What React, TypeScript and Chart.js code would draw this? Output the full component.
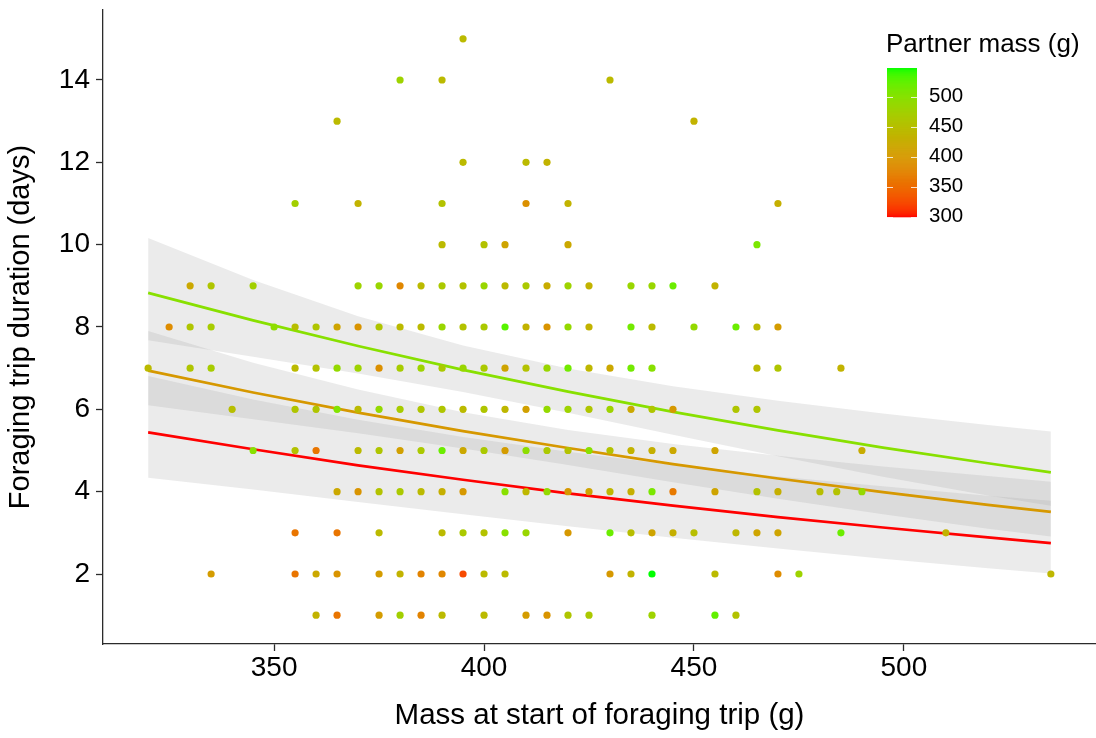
import React, { useEffect, useRef } from "react";
import { Chart, registerables } from "chart.js";

Chart.register(...registerables);

const FONT_FAMILY = '"Liberation Sans", Arial, Helvetica, sans-serif';

// Axis and legend breaks
const massTicks = [350, 400, 450, 500];
const durationTicks = [2, 4, 6, 8, 10, 12, 14];
const partnerTicks = [300, 350, 400, 450, 500];

// Observed foraging trips: bird mass at departure (g), trip length (days), partner mass (g)
const startMass = [
  395,
  380, 390, 430,
  365, 450,
  395, 410, 415,
  355, 370, 390, 410, 420, 470,
  390, 400, 405, 420, 465,
  330, 335, 345, 370, 375, 380, 385, 390, 395, 400, 405, 410, 415, 420, 425, 435, 440, 445, 455,
  325, 330, 335, 350, 355, 360, 365, 370, 375, 380, 385, 390, 395, 400, 405, 410, 415, 420, 425, 435, 440, 450, 460, 465, 470,
  320, 330, 335, 355, 360, 365, 370, 375, 380, 385, 390, 395, 400, 405, 410, 415, 420, 425, 430, 435, 440, 465, 470, 485,
  340, 355, 360, 365, 370, 375, 380, 385, 390, 395, 400, 405, 410, 415, 420, 425, 430, 435, 440, 445, 460, 465,
  345, 355, 360, 370, 375, 380, 385, 390, 395, 400, 405, 410, 415, 420, 425, 430, 435, 440, 445, 455, 490,
  365, 370, 375, 380, 385, 390, 395, 405, 410, 415, 420, 425, 430, 435, 440, 445, 455, 465, 470, 480, 484, 490,
  355, 365, 375, 390, 395, 400, 405, 410, 420, 430, 435, 440, 445, 450, 460, 465, 470, 485, 510,
  335, 355, 360, 365, 375, 380, 385, 390, 395, 400, 405, 430, 435, 440, 455, 470, 475, 535,
  360, 365, 375, 380, 385, 390, 400, 410, 415, 420, 425, 440, 455, 460,
];

const tripDays = [
  15,
  14, 14, 14,
  13, 13,
  12, 12, 12,
  11, 11, 11, 11, 11, 11,
  10, 10, 10, 10, 10,
  9, 9, 9, 9, 9, 9, 9, 9, 9, 9, 9, 9, 9, 9, 9, 9, 9, 9, 9,
  8, 8, 8, 8, 8, 8, 8, 8, 8, 8, 8, 8, 8, 8, 8, 8, 8, 8, 8, 8, 8, 8, 8, 8, 8,
  7, 7, 7, 7, 7, 7, 7, 7, 7, 7, 7, 7, 7, 7, 7, 7, 7, 7, 7, 7, 7, 7, 7, 7,
  6, 6, 6, 6, 6, 6, 6, 6, 6, 6, 6, 6, 6, 6, 6, 6, 6, 6, 6, 6, 6, 6,
  5, 5, 5, 5, 5, 5, 5, 5, 5, 5, 5, 5, 5, 5, 5, 5, 5, 5, 5, 5, 5,
  4, 4, 4, 4, 4, 4, 4, 4, 4, 4, 4, 4, 4, 4, 4, 4, 4, 4, 4, 4, 4, 4,
  3, 3, 3, 3, 3, 3, 3, 3, 3, 3, 3, 3, 3, 3, 3, 3, 3, 3, 3,
  2, 2, 2, 2, 2, 2, 2, 2, 2, 2, 2, 2, 2, 2, 2, 2, 2, 2,
  1, 1, 1, 1, 1, 1, 1, 1, 1, 1, 1, 1, 1, 1,
];

const partnerMass = [
  445,
  480, 445, 445,
  445, 435,
  445, 445, 435,
  475, 435, 455, 390, 435, 430,
  445, 455, 415, 420, 510,
  420, 460, 475, 480, 485, 380, 445, 465, 455, 485, 445, 465, 425, 480, 435, 485, 485, 520, 435,
  385, 460, 470, 495, 450, 460, 415, 395, 460, 445, 445, 485, 455, 465, 530, 435, 395, 490, 435, 515, 445, 490, 520, 445, 405,
  445, 460, 470, 445, 455, 490, 480, 390, 470, 480, 465, 485, 465, 415, 455, 485, 515, 440, 420, 515, 500, 445, 460, 435,
  450, 460, 460, 505, 445, 490, 470, 460, 460, 445, 460, 440, 410, 490, 480, 460, 480, 420, 460, 400, 460, 460,
  500, 455, 360, 445, 460, 410, 465, 520, 420, 465, 405, 495, 465, 455, 500, 455, 435, 430, 420, 415, 425,
  420, 395, 455, 465, 445, 430, 400, 500, 440, 490, 400, 415, 440, 430, 510, 365, 415, 455, 430, 450, 455, 490,
  360, 360, 445, 445, 465, 455, 500, 485, 400, 520, 450, 415, 430, 450, 440, 415, 415, 520, 435,
  405, 360, 420, 395, 405, 435, 375, 380, 325, 445, 445, 400, 435, 548, 445, 385, 480, 440,
  435, 360, 405, 475, 375, 445, 445, 405, 395, 460, 465, 480, 525, 455,
];

// Fitted trip duration (log-link model) with 95% confidence bands, per partner mass
const fitMass = [320, 345, 370, 395, 420, 445, 470, 495, 520, 535];
const fitPartner = [300, 400, 500];

const fitDays300 = [5.44, 5.03, 4.64, 4.29, 3.96, 3.66, 3.38, 3.13, 2.89, 2.75];
const ciLow300 = [4.34, 4.05, 3.75, 3.45, 3.16, 2.88, 2.62, 2.37, 2.14, 2.01];
const ciHigh300 = [6.81, 6.24, 5.75, 5.33, 4.97, 4.65, 4.37, 4.13, 3.9, 3.78];

const fitDays400 = [6.94, 6.41, 5.92, 5.47, 5.06, 4.67, 4.32, 3.99, 3.68, 3.51];
const ciLow400 = [6.1, 5.76, 5.42, 5.05, 4.65, 4.23, 3.83, 3.45, 3.1, 2.91];
const ciHigh400 = [7.9, 7.13, 6.48, 5.93, 5.5, 5.16, 4.87, 4.61, 4.38, 4.24];

const fitDays500 = [8.83, 8.16, 7.54, 6.96, 6.43, 5.94, 5.49, 5.07, 4.69, 4.47];
const ciLow500 = [7.68, 7.28, 6.87, 6.42, 5.92, 5.38, 4.86, 4.36, 3.91, 3.66];
const ciHigh500 = [10.16, 9.14, 8.26, 7.55, 6.99, 6.56, 6.21, 5.9, 5.62, 5.46];

const PARTNER_LOW = Math.min(...fitPartner, ...partnerMass);
const PARTNER_HIGH = Math.max(...fitPartner, ...partnerMass);

// --- colour scale: red -> green interpolated in CIE Lab ---
type Vec3 = [number, number, number];
const WHITE: Vec3 = [0.95047, 1, 1.08883];

function toLinear(c: number) {
  const v = c / 255;
  return v <= 0.04045 ? v / 12.92 : Math.pow((v + 0.055) / 1.055, 2.4);
}
function fromLinear(c: number) {
  const v = Math.max(0, Math.min(1, c));
  const s = v <= 0.0031308 ? 12.92 * v : 1.055 * Math.pow(v, 1 / 2.4) - 0.055;
  return Math.round(Math.max(0, Math.min(1, s)) * 255);
}
function rgbToLab(rgb: Vec3): Vec3 {
  const [r, g, b] = rgb.map(toLinear);
  const X = 0.4124 * r + 0.3576 * g + 0.1805 * b;
  const Y = 0.2126 * r + 0.7152 * g + 0.0722 * b;
  const Z = 0.0193 * r + 0.1192 * g + 0.9505 * b;
  const d = 6 / 29;
  const f = (t: number) => (t > d * d * d ? Math.cbrt(t) : t / (3 * d * d) + 4 / 29);
  const fx = f(X / WHITE[0]);
  const fy = f(Y / WHITE[1]);
  const fz = f(Z / WHITE[2]);
  return [116 * fy - 16, 500 * (fx - fy), 200 * (fy - fz)];
}
function labToRgb(lab: Vec3): Vec3 {
  const [L, a, b] = lab;
  const fy = (L + 16) / 116;
  const fx = fy + a / 500;
  const fz = fy - b / 200;
  const d = 6 / 29;
  const fi = (t: number) => (t > d ? t * t * t : 3 * d * d * (t - 4 / 29));
  const X = WHITE[0] * fi(fx);
  const Y = WHITE[1] * fi(fy);
  const Z = WHITE[2] * fi(fz);
  const r = 3.2406 * X - 1.5372 * Y - 0.4986 * Z;
  const g = -0.9689 * X + 1.8758 * Y + 0.0415 * Z;
  const bl = 0.0557 * X - 0.204 * Y + 1.057 * Z;
  return [fromLinear(r), fromLinear(g), fromLinear(bl)];
}

const LAB_LOW = rgbToLab([255, 0, 0]);
const LAB_HIGH = rgbToLab([0, 255, 0]);

function partnerColour(v: number) {
  const t = Math.max(0, Math.min(1, (v - PARTNER_LOW) / (PARTNER_HIGH - PARTNER_LOW)));
  const lab: Vec3 = [
    LAB_LOW[0] + (LAB_HIGH[0] - LAB_LOW[0]) * t,
    LAB_LOW[1] + (LAB_HIGH[1] - LAB_LOW[1]) * t,
    LAB_LOW[2] + (LAB_HIGH[2] - LAB_LOW[2]) * t,
  ];
  const [r, g, b] = labToRgb(lab);
  return `rgb(${r},${g},${b})`;
}

// --- continuous colour-bar legend ---
const colourBarLegend = {
  id: "partnerColourBar",
  afterDraw(chart: any) {
    const ctx = chart.ctx as CanvasRenderingContext2D;
    const left = 887;
    const right = 917;
    const top = 68;
    const bottom = 216.7;
    const span = PARTNER_HIGH - PARTNER_LOW;
    const toY = (v: number) => bottom - ((v - PARTNER_LOW) / span) * (bottom - top);

    ctx.save();
    const steps = 150;
    const h = (bottom - top) / steps;
    for (let i = 0; i < steps; i++) {
      const y0 = bottom - (i + 1) * h;
      const v = PARTNER_LOW + ((i + 0.5) / steps) * span;
      ctx.fillStyle = partnerColour(v);
      ctx.fillRect(left, y0, right - left, h + 0.6);
    }

    ctx.strokeStyle = "rgba(255,255,255,0.8)";
    ctx.lineWidth = 1;
    partnerTicks.forEach((v) => {
      const y = Math.round(toY(v)) + 0.5;
      ctx.beginPath();
      ctx.moveTo(left, y);
      ctx.lineTo(left + 6, y);
      ctx.moveTo(right - 6, y);
      ctx.lineTo(right, y);
      ctx.stroke();
    });

    ctx.fillStyle = "#000000";
    ctx.font = `20.5px ${FONT_FAMILY}`;
    ctx.textAlign = "left";
    ctx.textBaseline = "middle";
    partnerTicks.forEach((v) => {
      ctx.fillText(String(v), 929, toY(v));
    });

    ctx.font = `26px ${FONT_FAMILY}`;
    ctx.textBaseline = "alphabetic";
    ctx.fillText("Partner mass (g)", 886, 52);
    ctx.restore();
  },
};

function curve(values: number[]) {
  return fitMass.map((m, i) => ({ x: m, y: values[i] }));
}

export default function App() {
  const canvasRef = useRef<HTMLCanvasElement | null>(null);

  useEffect(() => {
    const canvas = canvasRef.current;
    if (!canvas) return;

    const fits = [
      { partner: fitPartner[0], mid: fitDays300, lo: ciLow300, hi: ciHigh300 },
      { partner: fitPartner[1], mid: fitDays400, lo: ciLow400, hi: ciHigh400 },
      { partner: fitPartner[2], mid: fitDays500, lo: ciLow500, hi: ciHigh500 },
    ];
    const ribbonFill = "rgba(153,153,153,0.2)";
    const clear = "rgba(0,0,0,0)";

    const datasets: any[] = [
      {
        label: "Trips",
        data: startMass.map((m, i) => ({ x: m, y: tripDays[i] })),
        showLine: false,
        pointRadius: 3.6,
        pointBorderWidth: 0,
        pointBackgroundColor: partnerMass.map(partnerColour),
        pointBorderColor: clear,
        order: 0,
      },
      ...fits.map((f) => ({
        label: `Fit ${f.partner}`,
        data: curve(f.mid),
        borderColor: partnerColour(f.partner),
        borderWidth: 2.7,
        pointRadius: 0,
        fill: false,
        tension: 0,
        order: 1,
      })),
    ];
    fits.forEach((f) => {
      datasets.push({
        label: `Upper ${f.partner}`,
        data: curve(f.hi),
        borderColor: clear,
        borderWidth: 0,
        pointRadius: 0,
        backgroundColor: ribbonFill,
        fill: "+1",
        tension: 0,
        order: 2,
      });
      datasets.push({
        label: `Lower ${f.partner}`,
        data: curve(f.lo),
        borderColor: clear,
        borderWidth: 0,
        pointRadius: 0,
        fill: false,
        tension: 0,
        order: 2,
      });
    });

    const axisColour = "#2b2b2b";

    const chart = new Chart(canvas, {
      type: "line",
      data: { datasets },
      options: {
        responsive: false,
        animation: false,
        devicePixelRatio: 1,
        events: [],
        layout: { padding: { top: 10, left: 0, right: 0, bottom: 0 } },
        plugins: {
          legend: { display: false },
          tooltip: { enabled: false },
        },
        scales: {
          x: {
            type: "linear",
            min: 309.25,
            max: 545.75,
            afterBuildTicks: (s: any) => {
              s.ticks = massTicks.map((v) => ({ value: v }));
            },
            afterFit: (s: any) => {
              s.height = 94;
              s.paddingLeft = 0;
              s.paddingRight = 0;
            },
            grid: {
              display: true,
              drawOnChartArea: false,
              drawTicks: true,
              tickLength: 7,
              tickWidth: 1.3,
              tickColor: axisColour,
              color: axisColour,
            },
            border: { display: true, color: axisColour, width: 1.3 },
            ticks: {
              autoSkip: false,
              maxRotation: 0,
              padding: 0,
              color: "#000000",
              font: { family: FONT_FAMILY, size: 28 },
            },
            title: {
              display: true,
              text: "Mass at start of foraging trip (g)",
              color: "#000000",
              font: { family: FONT_FAMILY, size: 29.5 },
              padding: { top: 0, bottom: 4 },
            },
          },
          y: {
            type: "linear",
            min: 0.3,
            max: 15.7,
            afterBuildTicks: (s: any) => {
              s.ticks = durationTicks.map((v) => ({ value: v }));
            },
            afterFit: (s: any) => {
              s.width = 103;
              s.paddingTop = 0;
              s.paddingBottom = 0;
            },
            grid: {
              display: true,
              drawOnChartArea: false,
              drawTicks: true,
              tickLength: 7,
              tickWidth: 1.3,
              tickColor: axisColour,
              color: axisColour,
            },
            border: { display: true, color: axisColour, width: 1.3 },
            ticks: {
              autoSkip: false,
              padding: 6,
              color: "#000000",
              font: { family: FONT_FAMILY, size: 28 },
            },
            title: {
              display: true,
              text: "Foraging trip duration (days)",
              color: "#000000",
              font: { family: FONT_FAMILY, size: 29 },
              padding: { top: 4, bottom: 0 },
            },
          },
        },
      },
      plugins: [colourBarLegend],
    } as any);

    return () => {
      chart.destroy();
    };
  }, []);

  return (
    <div
      style={{
        position: "fixed",
        left: 0,
        top: 0,
        width: 1096,
        height: 738,
        background: "#ffffff",
        overflow: "hidden",
      }}
    >
      <canvas ref={canvasRef} width={1100} height={738} style={{ display: "block" }} />
    </div>
  );
}
